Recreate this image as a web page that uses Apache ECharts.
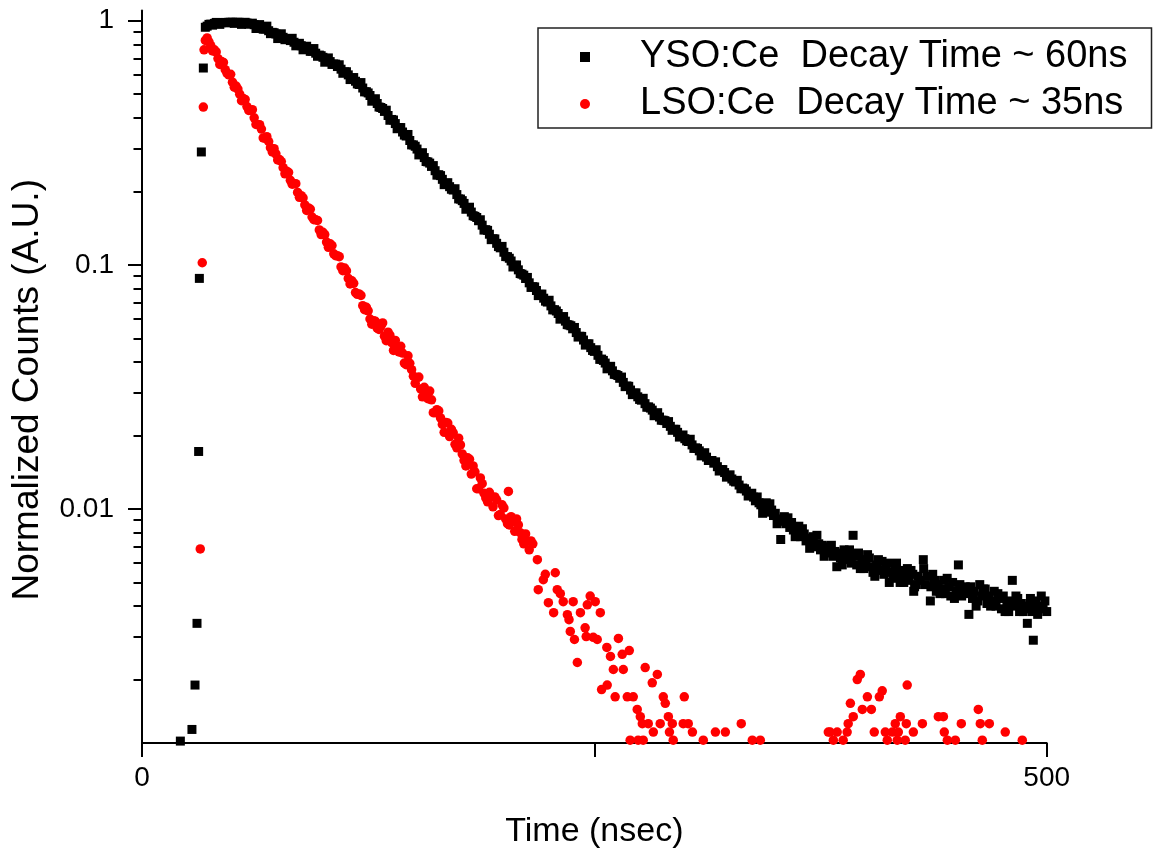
<!DOCTYPE html>
<html>
<head>
<meta charset="utf-8">
<script src="https://cdn.jsdelivr.net/npm/echarts@6/dist/echarts.min.js"></script>
<style>
html,body{margin:0;padding:0;background:#fff;}
#chart{width:1155px;height:854px;}
</style>
</head>
<body>
<div id="chart"></div>
<script>
// ---------- DATA (time in ns, normalized counts) ----------
const seriesNames = ['YSO:Ce  Decay Time ~ 60ns', 'LSO:Ce  Decay Time ~ 35ns'];
const xTickValues = [0, 250, 500];
const xLabelValues = [0, 500];
const yMajorTicks = [0.01, 0.1, 1];
const yMinorTicks = [0.002,0.003,0.004,0.005,0.006,0.007,0.008,0.009,
                     0.02,0.03,0.04,0.05,0.06,0.07,0.08,0.09,
                     0.2,0.3,0.4,0.5,0.6,0.7,0.8,0.9];

const ysoRise = [[21.2,0.00112],[27.6,0.00125],[29.3,0.0019],[30.4,0.0034],[31.3,0.0172],
  [31.7,0.088],[32.8,0.29],[33.9,0.64],[35,0.94]];
const ysoPeak = [[36,0.95],[37,0.966],[38,0.968],[39,0.959],[40,0.975],[41,0.984],[42,0.979],[43,0.966],
  [44,0.982],[45,0.983],[46,0.984],[47,0.98],[48,0.985],[49,0.985],[50,0.985],[51,0.975],[52,0.985],
  [53,0.985],[54,0.984],[55,0.966],[56,0.983],[57,0.985],[58,0.978],[59,0.968],[60,0.972],[61,0.977],
  [62,0.963],[63,0.929],[64,0.952],[65,0.964],[66,0.939],[67,0.923],[68,0.925],[69,0.950],[70,0.910],
  [71,0.885],[72,0.896],[73,0.893],[74,0.882],[75,0.845],[76,0.869],[77,0.884],[78,0.855],[79,0.836],
  [80,0.842],[81,0.844],[82,0.829],[83,0.847],[84,0.816],[85,0.789],[86,0.803],[87,0.808],[88,0.790],
  [89,0.760],[90,0.777],[91,0.786],[92,0.764],[93,0.749],[94,0.750],[95,0.769],[96,0.736],[97,0.715],
  [98,0.723],[99,0.719],[100,0.708],[101,0.676],[102,0.694],[103,0.704],[104,0.680],[105,0.662],
  [106,0.665],[107,0.664],[108,0.649],[109,0.660],[110,0.633],[111,0.609],[112,0.617],[113,0.618],
  [114,0.600],[115,0.574],[116,0.583],[117,0.585],[118,0.565],[119,0.551],[120,0.548],[121,0.558],
  [122,0.530],[123,0.511],[124,0.512],[125,0.506],[126,0.494],[127,0.468],[128,0.476],[129,0.479],
  [130,0.458],[131,0.443],[132,0.441],[133,0.437],[134,0.425],[135,0.430],[136,0.409],[137,0.391],
  [138,0.394],[139,0.392],[140,0.379],[141,0.361],[142,0.365],[143,0.365],[144,0.350],[145,0.340],
  [146,0.337],[147,0.342],[148,0.323],[149,0.310],[150,0.310],[151,0.306],[152,0.298],[153,0.282],
  [154,0.286],[155,0.288],[156,0.275],[157,0.265],[158,0.264],[159,0.261],[160,0.253],[161,0.255],
  [162,0.243],[163,0.233],[164,0.234],[165,0.232],[166,0.224],[167,0.213],[168,0.216],[169,0.217],
  [170,0.209],[171,0.204],[172,0.2025],[173,0.205]];
const ysoDecay = [[174,0.194],[175,0.1862],[176,0.186],[177,0.1832],[178,0.1785],[179,0.1689],[180,0.1714],
  [181,0.1722],[182,0.1645],[183,0.1589],[184,0.158],[185,0.1563],[186,0.1516],[187,0.153],[188,0.1454],
  [189,0.1388],[190,0.1393],[191,0.1384],[192,0.1335],[193,0.1268],[194,0.1279],[195,0.1277],[196,0.1225],
  [197,0.1188],[198,0.1174],[199,0.119],[200,0.1126],[201,0.1081],[202,0.108],[203,0.1064],[204,0.1037],
  [205,0.098],[206,0.0995],[207,0.0999],[208,0.0954],[209,0.0921],[210,0.0916],[211,0.0907],[212,0.0879],
  [213,0.0888],[214,0.0844],[215,0.0808],[216,0.0814],[217,0.0812],[218,0.0785],[219,0.0748],[220,0.0757],
  [221,0.0759],[222,0.0730],[223,0.071],[224,0.0704],[225,0.0716],[226,0.0679],[227,0.0654],[228,0.0655],
  [229,0.0647],[230,0.0632],[231,0.0599],[232,0.0610],[233,0.0614],[234,0.0588],[235,0.0569],[236,0.0567],
  [237,0.0563],[238,0.0547],[239,0.0554],[240,0.0528],[241,0.0506],[242,0.0510],[243,0.0509],[244,0.0492],
  [245,0.0469],[246,0.0474],[247,0.0475],[248,0.0458],[249,0.0446],[250,0.0442],[251,0.0449],[252,0.0426],
  [253,0.041],[254,0.0411],[255,0.0406],[256,0.0396],[257,0.0375],[258,0.0382],[259,0.0384],[260,0.0368],
  [261,0.0356],[262,0.0355],[263,0.0352],[264,0.0343],[265,0.0347],[266,0.0330],[267,0.0317],[268,0.0319],
  [269,0.0318],[270,0.0307],[271,0.0294],[272,0.0298],[273,0.0299],[274,0.0288],[275,0.0281],[276,0.0279],
  [277,0.0284],[278,0.0270],[279,0.0261],[280,0.0262],[281,0.0259],[282,0.0254],[283,0.0241],[284,0.0246],
  [285,0.0248],[286,0.0238],[287,0.0231],[288,0.0231],[289,0.023],[290,0.0224],[291,0.0228],[292,0.0218],
  [293,0.021],[294,0.0212],[295,0.0212],[296,0.0206],[297,0.0197],[298,0.0200],[299,0.0201],[300,0.0194],
  [301,0.019],[302,0.0189],[303,0.0193],[304,0.0183],[305,0.0177],[306,0.0178],[307,0.0177],[308,0.0173],
  [309,0.0165],[310,0.0168],[311,0.017],[312,0.0163],[313,0.0158],[314,0.0158],[315,0.0158],[316,0.0154],
  [317,0.0156],[318,0.0149],[319,0.0143],[320,0.0145],[321,0.0145],[322,0.0141],[323,0.0135],[324,0.0137],
  [325,0.0138],[326,0.01327],[327,0.013],[328,0.0129],[329,0.0131],[330,0.01253],[331,0.0121],[332,0.01218],
  [333,0.0121],[334,0.01184],[335,0.0113],[336,0.0115],[337,0.0116],[338,0.01118],[339,0.0108]];
const ysoTail = [[340,0.0112],[341,0.0106],[342,0.0104],[343,0.0096],[344,0.0101],[345,0.0106],[346,0.0097],
  [347,0.0105],[348,0.0099],[349,0.0094],[350,0.0096],[351,0.0087],[352,0.0091],[353,0.0075],[354,0.0089],
  [355,0.0093],[356,0.0087],[357,0.0092],[358,0.0084],[359,0.0088],[360,0.0082],[361,0.0077],[362,0.0080],
  [363,0.0085],[364,0.0077],[365,0.0083],[366,0.0079],[367,0.0074],[368,0.0076],[369,0.0069],[370,0.0073],
  [371,0.0077],[372,0.0070],[373,0.0078],[374,0.0072],[375,0.0068],[376,0.0071],[377,0.0064],[378,0.0066],
  [379,0.0070],[380,0.0069],[381,0.0071],[382,0.0064],[383,0.0067],[384,0.0058],[385,0.0066],[386,0.0063],
  [387,0.0059],[388,0.0068],[389,0.0062],[390,0.0065],[391,0.0068],[392,0.0060],[393,0.0078],[394,0.0064],
  [395,0.0059],[396,0.0066],[397,0.0057],[398,0.0062],[399,0.0057],[400,0.0060],[401,0.0065],[402,0.0063],
  [403,0.0058],[404,0.0055],[405,0.0053],[406,0.0059],[407,0.0062],[408,0.0056],[409,0.0061],[410,0.0054],
  [411,0.0058],[412,0.0060],[413,0.0050],[414,0.0055],[415,0.0052],[416,0.0057],[417,0.0060],[418,0.0054],
  [419,0.0050],[420,0.0056],[421,0.0050],[422,0.0053],[423,0.0057],[424,0.0051],[425,0.0056],[426,0.0054],
  [426.5,0.0046],[427,0.0048],[428,0.0049],[429,0.0053],[430,0.0051],[431.8,0.0062],[432,0.0057],[433,0.0049],
  [434,0.0053],[435.7,0.0042],[436,0.0048],[437,0.0054],[438,0.0051],[439,0.0046],[440,0.0049],[441,0.0045],
  [442,0.0047],[443,0.0051],[444,0.0045],[445,0.0052],[446,0.0048],[447,0.0044],[448,0.0050],[449,0.0043],
  [450,0.0046],[451.2,0.0059],[452,0.0049],[453,0.0044],[454,0.0047],[455,0.0048],[456,0.0045],[457,0.0037],
  [458,0.0048],[459,0.0043],[460,0.0046],[461,0.0040],[462,0.0042],[463,0.0049],[464,0.0044],[465,0.0047],
  [466,0.0047],[467,0.0041],[468,0.0044],[469,0.0040],[470,0.0042],[471,0.0046],[472,0.0040],[473,0.0045],
  [474,0.0043],[475,0.0039],[476,0.0044],[477,0.0038],[478,0.0041],[479,0.0038],[480,0.0042],[481,0.0051],
  [482,0.0040],[483,0.0044],[484,0.0043],[485,0.0038],[486,0.0041],[487,0.0038],[488,0.0039],[489.3,0.0034],
  [490,0.0040],[491,0.0043],[492,0.0038],[492.6,0.0029],[493,0.0042],[494,0.0041],[495,0.0037],[496,0.0040],
  [497,0.0044],[498,0.0039],[499,0.0042],[500,0.0038]];

const lsoRise = [[32.2,0.00686],[33.3,0.102],[33.9,0.443],[34.3,0.76],[35,0.83]];
const lsoDecay = [[36,0.85],[37,0.82],[38,0.79],[39,0.752],[40,0.76],[41,0.745],[42,0.70],[43,0.662],
  [44,0.68],[45,0.675],[46,0.63],[47,0.609],[48,0.60],[49,0.603],[50,0.56],[51,0.534],[52,0.54],[53,0.525],
  [54,0.50],[55,0.470],[56,0.48],[57,0.476],[58,0.445],[59,0.429],[60,0.43],[61,0.432],[62,0.40],[63,0.376],
  [64,0.375],[65,0.375],[66,0.36],[67,0.331],[68,0.33],[69,0.335],[70,0.32],[71,0.302],[72,0.29],[73,0.299],
  [74,0.285],[75,0.269],[76,0.27],[77,0.265],[78,0.25],[79,0.236],[80,0.242],[81,0.239],[82,0.222],
  [83,0.214],[84,0.215],[85,0.215],[86,0.198],[87,0.189],[88,0.192],[89,0.188],[90,0.176],[91,0.167],
  [92,0.171],[93,0.169],[94,0.157],[95,0.153],[96,0.153],[97,0.152],[98,0.139],[99,0.133],[100,0.136],
  [101,0.133],[102,0.124],[103,0.118],[104,0.122],[105,0.12],[106,0.111],[107,0.109],[108,0.109],
  [109,0.108],[110,0.098],[111,0.0946],[112,0.097],[113,0.0944],[114,0.088],[115,0.0835],[116,0.086],
  [117,0.084],[118,0.077],[119,0.0757],[120,0.076],[121,0.0749],[122,0.068],[123,0.0655],[124,0.067],
  [125,0.0648],[126,0.060],[127,0.0571],[128,0.059],[129,0.0587],[130,0.055],[131,0.0544],[132,0.056],
  [133,0.0578],[134,0.051],[135,0.0489],[136,0.053],[137,0.0515],[138,0.048],[139,0.0446],[140,0.049],
  [141,0.0455],[142,0.044],[143,0.0464],[144,0.0435],[145,0.0396],[146,0.039],[147,0.0424],[148,0.0395],
  [149,0.0372],[150,0.035],[151,0.0327],[152,0.0345],[153,0.0347],[154,0.031],[155,0.0288],[156,0.0315],
  [157,0.0296],[158,0.0283],[159,0.0304],[160,0.028],[161,0.0248],[162,0.0248],[163,0.0255],[164,0.0252],
  [165,0.0236],[166,0.0222],[167,0.0206],[168,0.0226],[169,0.0225],[170,0.0198],[171,0.0212],[172,0.0205],
  [173,0.0184],[174,0.0178],[175,0.0195],[176,0.0183],[177,0.0168],[178,0.0158],[179,0.015],[180,0.0162],
  [181,0.016],[182,0.0139],[183,0.0150],[184,0.0142],[185,0.0121],[186,0.0121],[187,0.0134],[188,0.0127],
  [189,0.0116],[190,0.0111],[191,0.0107],[192,0.0117],[193,0.0112],[194,0.0102],[195,0.0112],[196,0.0109],
  [197,0.0094],[198,0.0095],[199,0.0104],[200,0.0101],[201,0.0091],[202,0.0087],[202.5,0.0118],[203,0.0086],
  [204,0.0093],[205,0.0089],[206,0.0081],[207,0.0091],[208,0.0086],[209,0.0080],[210,0.0075],[211,0.0072],
  [212,0.0079],[213,0.0074],[214,0.0068],[215,0.0074],[216,0.0072]];
const lsoTail = [[218.5,0.0062],[221.8,0.00513],[219,0.00467],[222.9,0.0054],[228.4,0.00548],[229.5,0.00467],
  [224.6,0.00413],[231.2,0.0045],[232.8,0.00417],[238.3,0.00417],[227.5,0.00376],[235.1,0.00369],
  [236,0.00352],[242.3,0.00376],[246.1,0.00405],[247.7,0.0044],[250.5,0.00417],[253.3,0.00376],
  [236.7,0.00315],[239,0.00292],[244.9,0.00326],[245.5,0.003],[249.4,0.00298],[251.6,0.00292],
  [263.3,0.00295],[256.9,0.00271],[258.9,0.00249],[265.4,0.00254],[269.3,0.00263],[240.6,0.00235],
  [260.5,0.0022],[266,0.0022],[278.1,0.00224],[284.8,0.0021],[282,0.00194],[257.1,0.0019],[254,0.00182],
  [261.5,0.0017],[268.2,0.0017],[271.5,0.0017],[288.1,0.0017],[299.7,0.0017],[289.2,0.0016],
  [273.7,0.00151],[275.4,0.00141],[290.9,0.00141],[276.5,0.00132],[279.8,0.00132],[286.4,0.00132],
  [293.1,0.00132],[299.1,0.00132],[301.9,0.00132],[331.2,0.00132],[282.6,0.00122],[291.5,0.00122],
  [304.2,0.00122],[316.9,0.00122],[322.4,0.00122],[379.3,0.00122],[269.8,0.00113],[274.2,0.00113],
  [277,0.00113],[293.6,0.00113],[310.2,0.00113],[337.3,0.00113],[341.7,0.00113],
  [380.3,0.00122],[384.2,0.00122],[389.7,0.00122],[382.1,0.00113],[387.5,0.00113],[390.3,0.00132],
  [393.1,0.00141],[391.5,0.0016],[395.3,0.002],[397,0.0021],[398.1,0.00151],[400.9,0.0017],[403.1,0.00151],
  [404.7,0.00122],[407.5,0.0017],[409.1,0.0018],[410.8,0.00122],[411.9,0.00113],[414.7,0.00122],
  [416.3,0.00132],[419.1,0.00141],[418,0.00122],[417.4,0.00113],[421.8,0.00113],[422.9,0.0019],
  [422.4,0.00132],[426.3,0.00122],[431.3,0.00132],[440.1,0.00141],[442.9,0.00141],[443.4,0.00122],
  [445.1,0.00113],[449.5,0.00113],[452.8,0.00132],[462.2,0.00151],[463.3,0.00132],[464.4,0.00113],
  [468.3,0.00132],[477.1,0.00122],[486.5,0.00113]];

// ---------- CHART ----------
const FONT = '"Liberation Sans", Arial, Helvetica, sans-serif';
const chart = echarts.init(document.getElementById('chart'), null, {renderer: 'canvas'});
const fmtY = v => String(parseFloat(Number(v).toPrecision(3)));

const option = {
  animation: false,
  backgroundColor: '#ffffff',
  grid: {left: 142, right: 108.3, top: 10.6, bottom: 110.5, containLabel: false},
  legend: {
    orient: 'vertical', left: 538, top: 28,
    padding: [9, 24, 4, 42], itemGap: 7, itemWidth: 10, itemHeight: 10,
    borderColor: '#222', borderWidth: 1.5, backgroundColor: '#fff',
    textStyle: {fontFamily: FONT, fontSize: 38, color: '#000', lineHeight: 40, padding: [0, 0, 0, 45]},
    data: [{name: seriesNames[0], icon: 'rect'}, {name: seriesNames[1], icon: 'circle'}]
  },
  xAxis: {
    type: 'value', min: 0, max: 500, interval: 250,
    name: 'Time (nsec)', nameLocation: 'middle', nameGap: 72,
    nameTextStyle: {fontFamily: FONT, fontSize: 34, color: '#000'},
    axisLine: {show: true, onZero: false, lineStyle: {color: '#000', width: 2}},
    axisTick: {show: true, inside: false, length: 14, lineStyle: {color: '#000', width: 2}, customValues: xTickValues},
    axisLabel: {fontFamily: FONT, fontSize: 28, color: '#000', margin: 21, customValues: xLabelValues},
    splitLine: {show: false}
  },
  yAxis: [{
    type: 'log', logBase: 10, min: 0.0011, max: 1.1, position: 'left',
    name: 'Normalized Counts (A.U.)', nameLocation: 'middle', nameGap: 96, nameRotate: 90,
    nameTextStyle: {fontFamily: FONT, fontSize: 37, color: '#000', padding: [0, 26, 0, 0]},
    axisLine: {show: true, lineStyle: {color: '#000', width: 2}},
    axisTick: {show: true, inside: false, length: 14, lineStyle: {color: '#000', width: 2}, customValues: yMajorTicks},
    axisLabel: {fontFamily: FONT, fontSize: 28, color: '#000', margin: 28, customValues: yMajorTicks, formatter: fmtY},
    splitLine: {show: false}
  }, {
    type: 'log', logBase: 10, min: 0.0011, max: 1.1, position: 'left',
    axisLine: {show: false},
    axisTick: {show: true, inside: false, length: 8.5, lineStyle: {color: '#000', width: 2}, customValues: yMinorTicks},
    axisLabel: {show: false},
    splitLine: {show: false}
  }],
  series: [{
    name: seriesNames[0], type: 'scatter', symbol: 'rect', symbolSize: 9,
    itemStyle: {color: '#000000', opacity: 1}, z: 2, clip: true,
    data: ysoRise.concat(ysoPeak, ysoDecay, ysoTail)
  }, {
    name: seriesNames[1], type: 'scatter', symbol: 'circle', symbolSize: 9.5,
    itemStyle: {color: '#ff0000', opacity: 1}, z: 3, clip: true,
    data: lsoRise.concat(lsoDecay, lsoTail)
  }]
};
chart.setOption(option);
</script>
</body>
</html>
